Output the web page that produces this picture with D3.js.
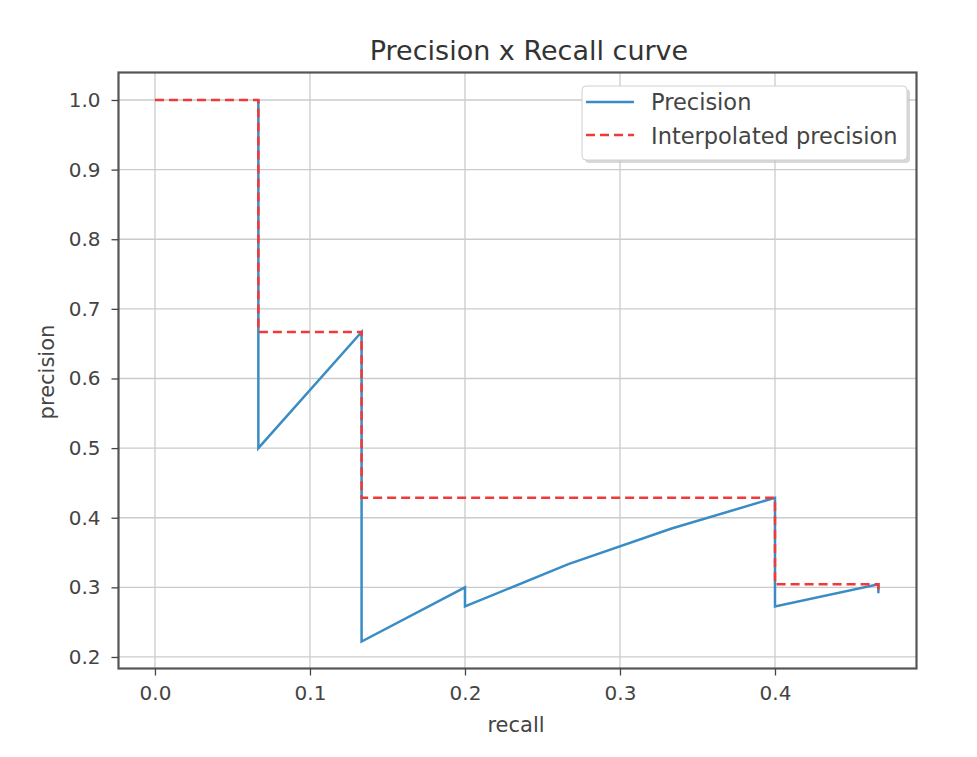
<!DOCTYPE html>
<html><head><meta charset="utf-8">
<script src="https://cdn.jsdelivr.net/npm/d3@7"></script>
<style>body{margin:0;background:#fff;} text{font-family:"DejaVu Sans",sans-serif;}</style>
</head><body>
<svg id="c" width="977" height="757"></svg>
<script>
const recall = [0.0667,0.0667,0.1333,0.1333,0.1333,0.1333,0.1333,0.1333,0.1333,0.2,0.2,0.2667,0.3333,0.4,0.4,0.4,0.4,0.4,0.4,0.4,0.4,0.4,0.4667,0.4667];
const precision = [1,0.5,0.6667,0.5,0.4,0.3333,0.2857,0.25,0.2222,0.3,0.2727,0.3333,0.3846,0.4286,0.4,0.375,0.3529,0.3333,0.3158,0.3,0.2857,0.2727,0.3043,0.2917];
const interpRecall = [0,0.0667,0.0667,0.1333,0.1333,0.1333,0.1333,0.1333,0.1333,0.1333,0.2,0.2,0.2667,0.3333,0.4,0.4,0.4,0.4,0.4,0.4,0.4,0.4,0.4,0.4667,0.4667];
const interpPrecision = [1,1,0.6667,0.6667,0.4286,0.4286,0.4286,0.4286,0.4286,0.4286,0.4286,0.4286,0.4286,0.4286,0.4286,0.4,0.375,0.3529,0.3333,0.3158,0.3043,0.3043,0.3043,0.3043,0.2917];
const xTicks = [0,0.1,0.2,0.3,0.4];
const yTicks = [0.2,0.3,0.4,0.5,0.6,0.7,0.8,0.9,1.0];

const svg = d3.select("#c");
const x = d3.scaleLinear().domain([-0.02333,0.49]).range([118.8,914.5]);
const y = d3.scaleLinear().domain([0.1833,1.0389]).range([668.6,72.9]);
const L=118.5, R=916.5, T=72.5, B=668.5;

// grid
const g = svg.append("g");
g.selectAll(".gx").data(xTicks).enter().append("line")
  .attr("x1",d=>x(d)).attr("x2",d=>x(d)).attr("y1",T).attr("y2",B)
  .attr("stroke","#cbcbcb").attr("stroke-width",1.3);
g.selectAll(".gy").data(yTicks).enter().append("line")
  .attr("y1",d=>y(d)).attr("y2",d=>y(d)).attr("x1",L).attr("x2",R)
  .attr("stroke","#cbcbcb").attr("stroke-width",1.3);

// lines
const line = d3.line().x(d=>x(d[0])).y(d=>y(d[1]));
svg.append("path").datum(recall.map((r,i)=>[r,precision[i]]))
  .attr("d",line).attr("fill","none").attr("stroke","#3a8cc4").attr("stroke-width",2.5);
svg.append("path").datum(interpRecall.map((r,i)=>[r,interpPrecision[i]]))
  .attr("d",line).attr("fill","none").attr("stroke","#f03a3a").attr("stroke-width",2.5)
  .attr("stroke-dasharray","9,5");

// frame
svg.append("rect").attr("x",L).attr("y",T).attr("width",R-L).attr("height",B-T)
  .attr("fill","none").attr("stroke","#555").attr("stroke-width",2.2);

// axes
const xAxis = d3.axisBottom(x).tickValues(xTicks).tickFormat(d3.format(".1f")).tickSize(7).tickPadding(10);
const ax = svg.append("g").attr("transform",`translate(0,${B})`).call(xAxis);
ax.select(".domain").remove();
ax.selectAll("line").attr("stroke","#444").attr("stroke-width",1.3);
ax.selectAll("text").attr("font-size",20).attr("fill","#444").attr("font-family","DejaVu Sans");

const yAxis = d3.axisLeft(y).tickValues(yTicks).tickFormat(d3.format(".1f")).tickSize(7).tickPadding(11);
const ay = svg.append("g").attr("transform",`translate(${L},0)`).call(yAxis);
ay.select(".domain").remove();
ay.selectAll("line").attr("stroke","#444").attr("stroke-width",1.3);
ay.selectAll("text").attr("font-size",20).attr("fill","#444").attr("font-family","DejaVu Sans");

// labels
svg.append("text").attr("x",529).attr("y",60).attr("text-anchor","middle")
  .attr("font-size",27).attr("fill","#333").text("Precision x Recall curve");
svg.append("text").attr("x",516).attr("y",732).attr("text-anchor","middle")
  .attr("font-size",21).attr("fill","#444").text("recall");
svg.append("text").attr("transform","translate(54,372) rotate(-90)").attr("text-anchor","middle")
  .attr("font-size",21).attr("fill","#444").text("precision");

// legend
const lg = svg.append("g");
lg.append("rect").attr("x",585).attr("y",89).attr("width",325).attr("height",74).attr("rx",4)
  .attr("fill","#c8c8c8").attr("opacity",0.7);
lg.append("rect").attr("x",582).attr("y",86).attr("width",325).attr("height",74).attr("rx",4)
  .attr("fill","#fff").attr("stroke","#d0d0d0").attr("stroke-width",1);
lg.append("line").attr("x1",586).attr("x2",634).attr("y1",102).attr("y2",102)
  .attr("stroke","#3a8cc4").attr("stroke-width",2.5);
lg.append("line").attr("x1",586).attr("x2",634).attr("y1",135).attr("y2",135)
  .attr("stroke","#f03a3a").attr("stroke-width",2.5).attr("stroke-dasharray","9,5");
lg.append("text").attr("x",651).attr("y",110).attr("font-size",22.5).attr("fill","#444").text("Precision");
lg.append("text").attr("x",651).attr("y",144).attr("font-size",22.5).attr("fill","#444").text("Interpolated precision");
</script>
</body></html>
